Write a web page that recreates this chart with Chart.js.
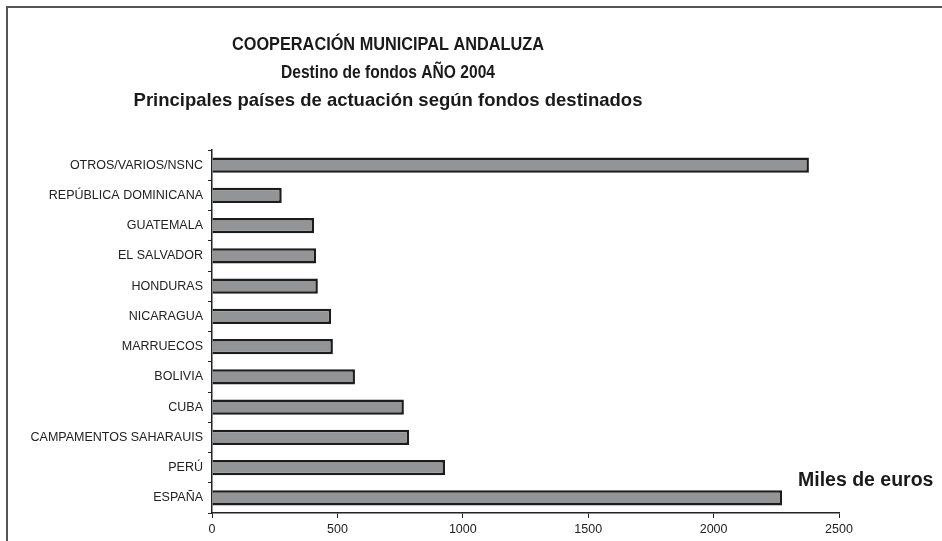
<!DOCTYPE html>
<html>
<head>
<meta charset="utf-8">
<script src="https://cdn.jsdelivr.net/npm/chart.js@4"></script>
<style>
  html, body { margin: 0; padding: 0; background: #fff; }
  #wrap { width: 942px; height: 541px; }
</style>
</head>
<body>
<div id="wrap"><canvas id="chart" width="942" height="541"></canvas></div>
<script>
const countries = [
  "OTROS/VARIOS/NSNC",
  "REPÚBLICA DOMINICANA",
  "GUATEMALA",
  "EL SALVADOR",
  "HONDURAS",
  "NICARAGUA",
  "MARRUECOS",
  "BOLIVIA",
  "CUBA",
  "CAMPAMENTOS SAHARAUIS",
  "PERÚ",
  "ESPAÑA",
];
const fondos = [2380, 278, 407, 415, 422, 475, 482, 570, 765, 786, 929, 2273];
const titleLines = [
  "COOPERACIÓN MUNICIPAL ANDALUZA",
  "Destino de fondos AÑO 2004",
  "Principales países de actuación según fondos destinados",
];
const unitLabel = "Miles de euros";

const ctx = document.getElementById("chart").getContext("2d");

// frame + titles drawn by hand
const decorations = {
  id: "decorations",
  beforeDraw: (chart) => {
    const c = chart.ctx;
    c.save();
    c.fillStyle = "#fff";
    c.fillRect(0, 0, chart.width, chart.height);
    c.strokeStyle = "#555";
    c.lineWidth = 2;
    c.beginPath();
    c.moveTo(7, chart.height);
    c.lineTo(7, 7);
    c.lineTo(chart.width, 7);
    c.stroke();
    c.restore();
  },
  afterDraw: (chart) => {
    const c = chart.ctx;
    c.save();
    c.fillStyle = "#1a1a1a";
    c.font = "bold 18.5px 'Liberation Sans', Arial, sans-serif";
    c.textAlign = "center";
    c.textBaseline = "middle";
    const ys = [45, 73, 101];
    const widths = [312, 214, 520];
    titleLines.forEach((t, i) => c.fillText(t, 388, ys[i], widths[i]));
    c.font = "bold 19.5px 'Liberation Sans', Arial, sans-serif";
    c.textAlign = "left";
    c.fillText(unitLabel, 798, 481);
    c.restore();
  },
};

const chart = new Chart(ctx, {
  type: "bar",
  data: {
    labels: countries,
    datasets: [
      {
        label: "Fondos",
        data: fondos,
        backgroundColor: "#939496",
        borderColor: "#1c1c1c",
        borderWidth: 2.5,
        barPercentage: 0.5,
        categoryPercentage: 1,
      },
    ],
  },
  options: {
    indexAxis: "y",
    responsive: false,
    animation: false,
    layout: { padding: { left: 0, right: 103, top: 150, bottom: 0 } },
    plugins: {
      legend: { display: false },
      title: { display: false },
      tooltip: { enabled: false },
    },
    scales: {
      x: {
        min: 0,
        max: 2500,
        afterFit: (s) => { s.height = 28; },
        ticks: {
          stepSize: 500,
          color: "#222",
          padding: 4,
          callback: (v) => String(v),
          font: { family: "'Liberation Sans', Arial, sans-serif", size: 12.5 },
        },
        grid: { drawOnChartArea: false, tickLength: 5, color: "#222", lineWidth: 1 },
        border: { color: "#222", width: 1.5 },
      },
      y: {
        afterFit: (s) => { s.width = 212; },
        ticks: {
          color: "#222",
          padding: 5,
          font: { family: "'Liberation Sans', Arial, sans-serif", size: 12.5 },
        },
        grid: { drawOnChartArea: false, tickLength: 4, color: "#222", lineWidth: 1 },
        border: { color: "#222", width: 1.5 },
      },
    },
  },
  plugins: [decorations],
});
</script>
</body>
</html>
